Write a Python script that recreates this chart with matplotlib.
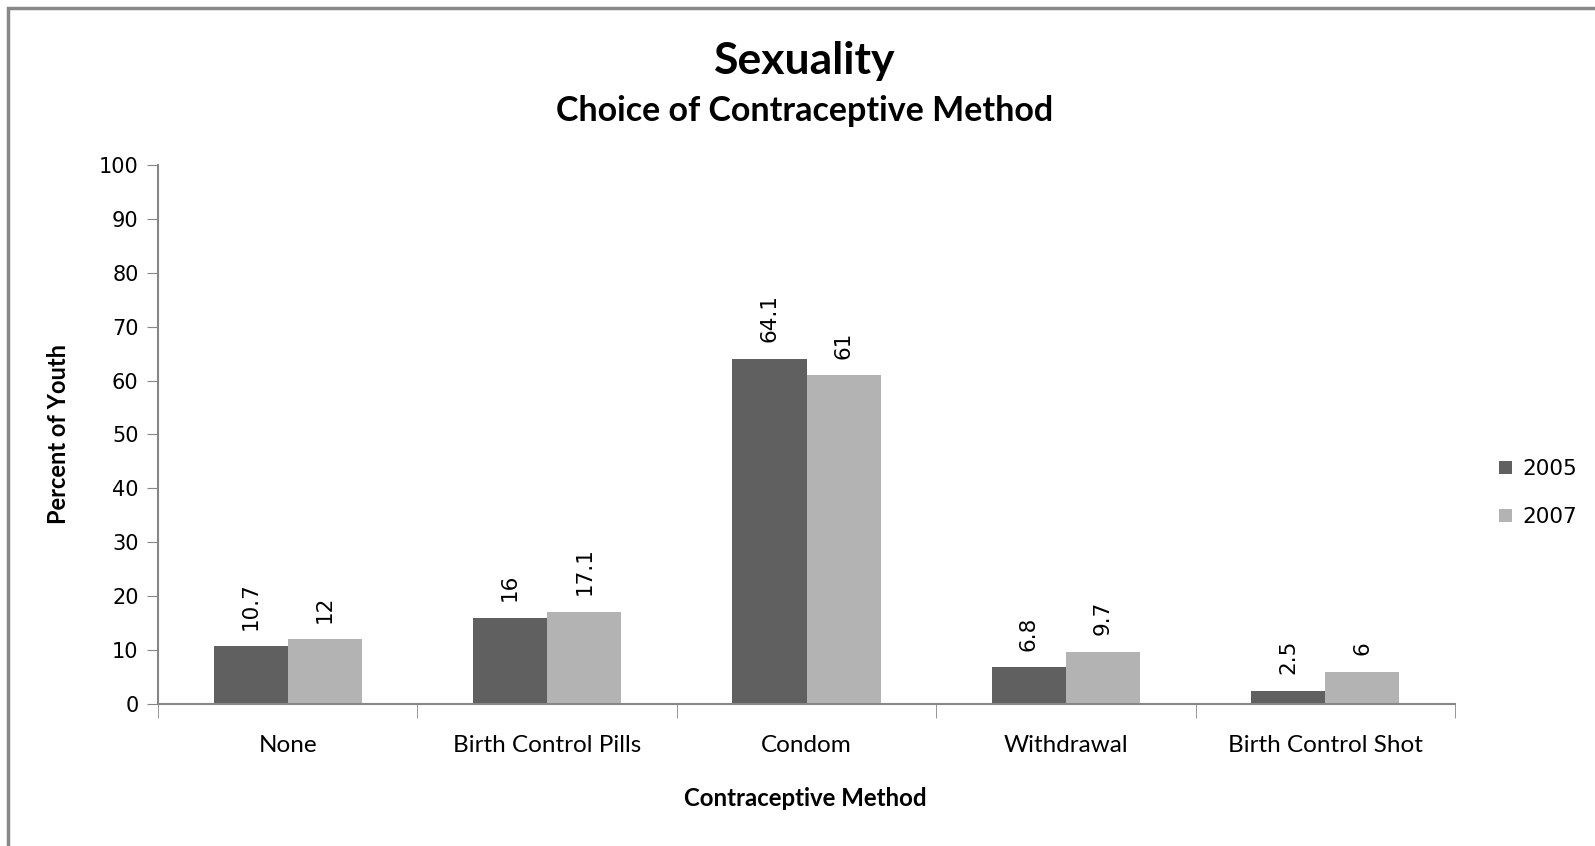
import matplotlib
matplotlib.use("Agg")
import matplotlib.pyplot as plt
import numpy as np
from matplotlib.patches import Rectangle

categories = ["None", "Birth Control Pills", "Condom", "Withdrawal", "Birth Control Shot"]
series_names = ["2005", "2007"]
values_2005 = [10.7, 16, 64.1, 6.8, 2.5]
values_2007 = [12, 17.1, 61, 9.7, 6]
label_2005 = ["10.7", "16", "64.1", "6.8", "2.5"]
label_2007 = ["12", "17.1", "61", "9.7", "6"]
yticks = [0, 10, 20, 30, 40, 50, 60, 70, 80, 90, 100]

W, H = 1595, 846
fig = plt.figure(figsize=(W / 100, H / 100), dpi=100)
ax = fig.add_axes([158 / W, 1 - 704 / H, (1455 - 158) / W, (704 - 165) / H])

c05 = "#606060"
c07 = "#b3b3b3"
x = np.arange(len(categories))
bw = 0.286
b1 = ax.bar(x - bw / 2, values_2005, bw, color=c05, label=series_names[0])
b2 = ax.bar(x + bw / 2, values_2007, bw, color=c07, label=series_names[1])

for bars, labs in ((b1, label_2005), (b2, label_2007)):
    for r, t in zip(bars, labs):
        ax.annotate(t, (r.get_x() + r.get_width() / 2, r.get_height()),
                    xytext=(0, 12), textcoords="offset points",
                    rotation=90, ha="center", va="bottom",
                    fontsize=15.5, family="DejaVu Sans", color="black")

ax.set_xlim(-0.5, len(categories) - 0.5)
ax.set_ylim(0, 100)
ax.set_yticks(yticks)
ax.set_yticklabels([str(v) for v in yticks], fontsize=15, family="DejaVu Sans")
ax.set_xticks(x)
ax.set_xticklabels(categories, fontsize=17.5, family="Lato")
ax.tick_params(axis="x", length=0, pad=22)
ax.set_xticks(np.arange(len(categories) + 1) - 0.5, minor=True)
ax.tick_params(axis="x", which="minor", length=10, color="#868686", direction="out")
ax.tick_params(axis="y", length=8, color="#868686", direction="out", pad=6)

for s in ("top", "right"):
    ax.spines[s].set_visible(False)
for s in ("left", "bottom"):
    ax.spines[s].set_color("#868686")
    ax.spines[s].set_linewidth(1.5)

fig.text(58 / W, 1 - 434 / H, "Percent of Youth", rotation=90, ha="center", va="center",
         fontsize=17, fontweight="bold", family="Lato")
fig.text(805 / W, 1 - 798 / H, "Contraceptive Method", ha="center", va="center",
         fontsize=17.3, fontweight="bold", family="Lato")
fig.text(805 / W, 1 - 61 / H, "Sexuality", ha="center", va="center",
         fontsize=32, fontweight="bold", family="Lato")
fig.text(805 / W, 1 - 111 / H, "Choice of Contraceptive Method", ha="center", va="center",
         fontsize=24.5, fontweight="bold", family="Lato")

leg = fig.legend(handles=[b1, b2], labels=series_names, loc="center left",
                 bbox_to_anchor=(1488 / W, 1 - 493 / H), frameon=False,
                 handlelength=0.6, handleheight=0.6, borderpad=0,
                 handletextpad=0.5, labelspacing=1.3, prop={"family": "DejaVu Sans", "size": 15.5})

fig.patches.append(Rectangle((8 / W, -0.1), 1.2, (1 - 8 / H) + 0.1, transform=fig.transFigure,
                             fill=False, edgecolor="#888888", linewidth=2.5))

fig.savefig("out.png", dpi=100)
